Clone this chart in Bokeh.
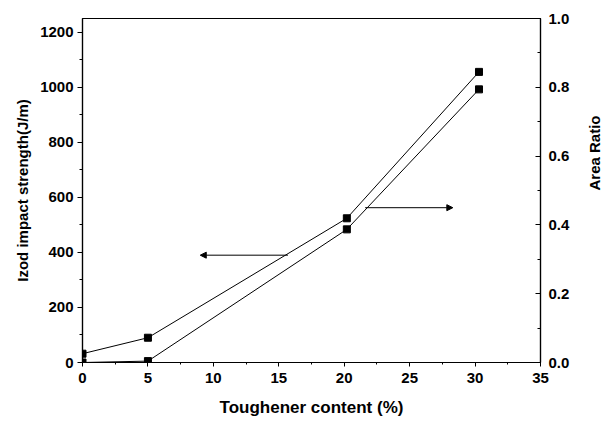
import math
from bokeh.plotting import figure
from bokeh.models import (Range1d, LinearAxis, SingleIntervalTicker, PrintfTickFormatter,
                          Arrow, NormalHead)
from bokeh.embed import file_html
from bokeh.resources import INLINE

# Data
content = [0, 5, 20.2, 30.3]
izod = [32, 90, 524, 1056]
area_ratio = [0.0, 0.004, 0.387, 0.794]

# annotation arrows (x start, x end, y)
left_arrow = dict(x_start=15.7, x_end=9.0, y=390)     # points to left axis
right_arrow = dict(x_start=21.6, x_end=28.3, y=0.45)  # points to right axis

FONT = "Liberation Sans"

p = figure(width=605, height=412, output_backend="svg", toolbar_location=None,
           x_range=Range1d(0, 35), y_range=Range1d(0, 1250),
           min_border_left=82, min_border_right=65, min_border_top=18, min_border_bottom=10,
           frame_width=458, frame_height=344)
p.background_fill_color = "white"
p.border_fill_color = "white"
p.grid.visible = False
p.outline_line_color = "black"
p.outline_line_width = 1.2

p.extra_y_ranges = {"ratio": Range1d(0, 1.0)}

# lines and markers
p.line(content, izod, line_color="black", line_width=1)
p.scatter(content, izod, marker="square", size=7, color="black")
p.line(content, area_ratio, line_color="black", line_width=1, y_range_name="ratio")
p.scatter(content, area_ratio, marker="square", size=7, color="black", y_range_name="ratio")

p.add_layout(Arrow(end=NormalHead(size=6, fill_color="black", line_color="black"),
                   x_start=left_arrow["x_start"], y_start=left_arrow["y"],
                   x_end=left_arrow["x_end"], y_end=left_arrow["y"],
                   line_color="black", line_width=1))
p.add_layout(Arrow(end=NormalHead(size=6, fill_color="black", line_color="black"),
                   x_start=right_arrow["x_start"], y_start=right_arrow["y"],
                   x_end=right_arrow["x_end"], y_end=right_arrow["y"],
                   line_color="black", line_width=1, y_range_name="ratio"))

# axes styling
def style(ax):
    ax.axis_line_color = "black"
    ax.axis_line_width = 1.2
    ax.major_tick_line_color = "black"
    ax.minor_tick_line_color = "black"
    ax.major_label_text_font = FONT
    ax.major_label_text_font_style = "bold"
    ax.major_label_text_font_size = "15px"
    ax.major_label_text_color = "black"
    ax.axis_label_text_font = FONT
    ax.axis_label_text_font_style = "bold"
    ax.axis_label_text_font_size = "15px"
    ax.axis_label_text_color = "black"

xa = p.xaxis[0]
style(xa)
xa.ticker = SingleIntervalTicker(interval=5, num_minor_ticks=2)
xa.axis_label = "Toughener content (%)"
xa.axis_label_text_font_size = "17px"
xa.major_tick_in = 0
xa.major_tick_out = 4
xa.minor_tick_in = 0
xa.minor_tick_out = 2
xa.major_label_standoff = 6
xa.axis_label_standoff = 12

ya = p.yaxis[0]
style(ya)
ya.ticker = SingleIntervalTicker(interval=200, num_minor_ticks=2)
ya.axis_label = "Izod impact strength(J/m)"
ya.major_tick_in = 0
ya.major_tick_out = 5
ya.minor_tick_in = 0
ya.minor_tick_out = 3
ya.major_label_standoff = 4
ya.axis_label_standoff = 6

ra = LinearAxis(y_range_name="ratio", axis_label="Area Ratio",
                ticker=SingleIntervalTicker(interval=0.2, num_minor_ticks=2),
                formatter=PrintfTickFormatter(format="%.1f"))
style(ra)
ra.major_tick_in = 5
ra.major_tick_out = 0
ra.minor_tick_in = 3
ra.minor_tick_out = 0
ra.major_label_standoff = 8
ra.axis_label_standoff = 22
ra.axis_label_orientation = -3 * math.pi / 2
p.add_layout(ra, "right")

open("out.html", "w").write(file_html(p, INLINE))
